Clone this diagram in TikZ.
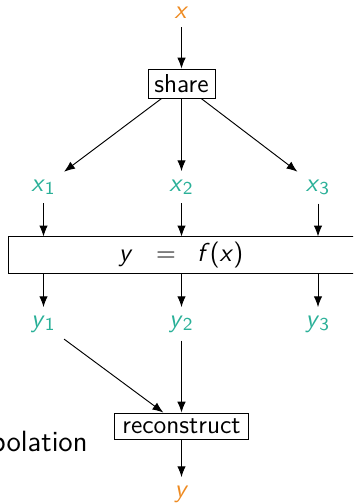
\documentclass[tikz,border=0pt]{standalone}
\usetikzlibrary{arrows.meta}
\definecolor{myorange}{RGB}{238,138,32}
\definecolor{myteal}{RGB}{42,176,152}
\newcommand\mv[1]{\textsl{#1}}
\begin{document}
\begin{tikzpicture}[x=0.4237pt,y=-0.4237pt,
  font=\fontsize{11}{13}\selectfont\sffamily,
  arr/.style={-{Latex[length=4.6pt,width=3.6pt]}, line width=0.4pt},
  box/.style={draw, line width=0.4pt, inner sep=0pt},
  inp/.style={text=myorange, anchor=base},
  var/.style={text=myteal, anchor=base}]
\useasboundingbox (0,0) rectangle (353,504);
\clip (0,0) rectangle (353,504);
% nodes
\node[inp] (x) at (181.5,19) {\mv{x}};
\node[box, minimum width=28.4pt, minimum height=12.3pt] (share) at (181.5,83.5) {share};
\node[var] (x1) at (43.5,191) {\mv{x}\textsubscript{1}};
\node[var] (x2) at (181.5,191) {\mv{x}\textsubscript{2}};
\node[var] (x3) at (318,191) {\mv{x}\textsubscript{3}};
\node[box, minimum width=146.6pt, minimum height=15.3pt] (f) at (181,255)
  {\mv{y}\hspace{10pt}=\hspace{9pt}\mv{f}(\mv{x})};
\node[var] (y1) at (43.5,327) {\mv{y}\textsubscript{1}};
\node[var] (y2) at (181.5,327) {\mv{y}\textsubscript{2}};
\node[var] (y3) at (318,327) {\mv{y}\textsubscript{3}};
\node[box, minimum width=56.4pt, minimum height=11pt] (rec) at (181.5,426) {reconstruct};
\node[inp] (y) at (181.5,497) {\mv{y}};
\node[anchor=base east, inner sep=0pt, font=\fontsize{12.4}{14}\selectfont\sffamily] (interp) at (88,451.5) {polation};
% connectors
\draw[arr] (x) -- (share);
\draw[arr] (share) -- (x1);
\draw[arr] (share) -- (x2);
\draw[arr] (share) -- (x3);
\foreach \i in {1,2,3} {
  \draw[arr] (x\i) -- (x\i |- f.north);
  \draw[arr] (f.south -| y\i) -- (y\i);
}
\draw[arr] (y1) -- (rec);
\draw[arr] (y2) -- (rec);
\draw[arr] (rec) -- (y);
\end{tikzpicture}
\end{document}
